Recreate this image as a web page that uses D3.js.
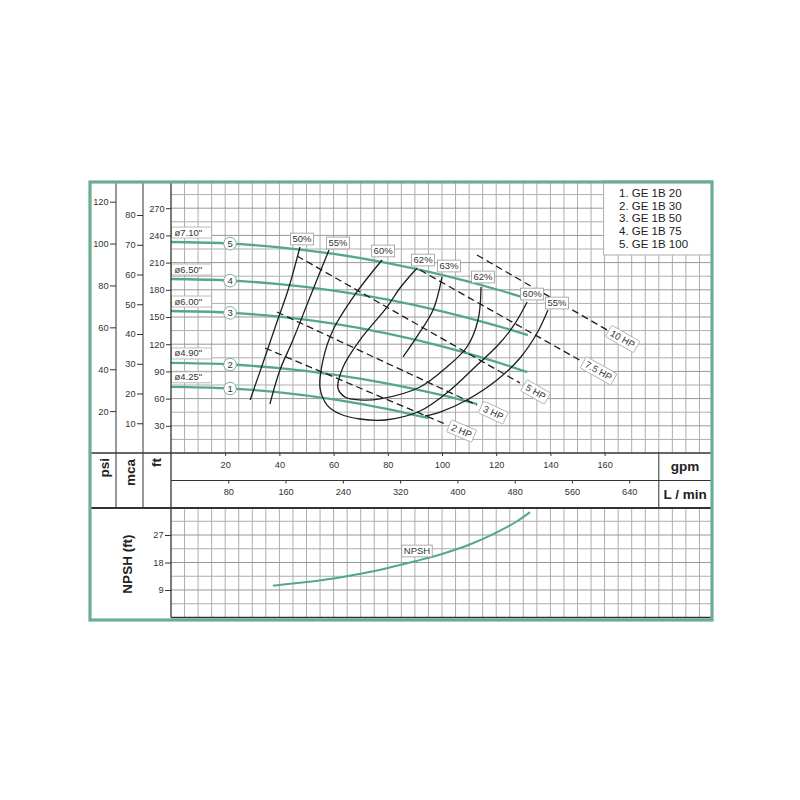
<!DOCTYPE html>
<html><head><meta charset="utf-8">
<script src="https://cdn.jsdelivr.net/npm/d3@7"></script>
<style>
body{margin:0;background:#fff}
svg{display:block}
text{font-family:"Liberation Sans",Arial,sans-serif}
</style>
</head><body>
<svg id="c" width="800" height="800"></svg>
<script>
// ---------- data ----------
const gpmTicks = [20,40,60,80,100,120,140,160];
const lminTicks = [80,160,240,320,400,480,560,640];
const ftTicks = [30,60,90,120,150,180,210,240,270];
const psiTicks = [20,40,60,80,100,120];
const mcaTicks = [10,20,30,40,50,60,70,80];
const npshTicks = [9,18,27];
const models = ["1. GE 1B 20","2. GE 1B 30","3. GE 1B 50","4. GE 1B 75","5. GE 1B 100"];
const diameters = ["ø4.25\"","ø4.90\"","ø6.00\"","ø6.50\"","ø7.10\""];

// head curves [gpm, ft]
const head1 = [[0,73],[20,71.5],[40,66.9],[60,59.2],[80,48.5],[95,38.4]];
const head2 = [[0,99.3],[20,97.9],[40,93.6],[60,86.5],[80,76.6],[100,63.8],[113,54]];
const head3 = [[0,156.6],[20,155],[40,150.4],[60,142.6],[80,131.6],[100,117.6],[120,100.4],[131.5,89.2]];
const head4 = [[0,191.9],[20,190.5],[40,186.2],[60,179.1],[80,169.1],[100,156.3],[120,140.6],[131.7,130.1]];
const head5 = [[0,232.7],[20,231.3],[40,226.9],[60,219.7],[80,209.5],[100,196.5],[120,180.6],[130.6,171]];

// efficiency curves [gpm, ft]
const effNames = ["50%","55%","60%","62%","63%","55%"];
const eff50 = [[47.6,227.2],[43.2,179.8],[39.1,144.5],[34.7,105.9],[29.2,58.5]];
const eff55a = [[58.3,223.9],[51.3,172.1],[45.0,124.6],[40.2,91.5],[36.5,54.0]];
const eff60 = [[77.9,212.9],[68.6,177.6],[59.8,135.7],[56.1,102.6],[55.0,71.7],[57.6,52.9],[62.4,43.0],[69.7,37.5],[79.0,36.4],[91.9,46.3],[102.2,67.3],[112.2,94.9],[120.7,119.1],[126.6,141.2],[131.4,166.5]];
const eff62 = [[90.8,204.0],[84.5,182.0],[79.7,161.0],[69.7,124.6],[63.5,94.9],[61.6,71.7],[64.2,61.8],[69.7,58.5],[77.1,59.6],[91.9,72.8],[101.8,94.9],[109.2,116.9],[113.3,146.7],[114.4,183.1]];
const eff63 = [[100.0,194.1],[96.7,157.7],[91.1,130.1],[85.6,105.9]];
const eff55b = [[139.1,157.7],[135.1,132.3],[128.8,104.8],[120.3,80.5],[109.2,58.5],[99.3,45.2],[93.7,40.8]];

// power lines [gpm, ft]
const powerNames = ["2 HP","3 HP","5 HP","7.5 HP","10 HP"];
const hp2 = [[34.7,115.8],[101.1,32.0]];
const hp3 = [[39.1,155.5],[112.9,52.9]];
const hp5 = [[46.5,217.3],[128.8,77.2]];
const hp75 = [[91.9,201.8],[152.0,100.4]];
const hp10 = [[112.9,218.4],[160.9,135.7]];

// NPSH [gpm, ft]
const npsh = [[37.6,10.4],[50,11.6],[60,12.8],[70,14.3],[80,16.2],[90,18.4],[100,20.8],[110,23.8],[120,27.8],[127.7,31.5],[132.5,34.5]];

// ---------- layout ----------
const svg = d3.select("#c");
const L = 171, R = 712, T = 181, B1 = 453, B2 = 480.5, B3 = 508, B4 = 617.5;
const GREEN = "#55a78b", GRID = "#adadad", DARK = "#333";

const x = d3.scaleLinear().domain([0,200]).range([L,713]);
const xL = d3.scaleLinear().domain([0,200*3.785]).range([L,713]);
const y = d3.scaleLinear().domain([0,300]).range([B1,T]);
const yPsi = d3.scaleLinear().domain([0,300/2.31]).range([B1,T]);
const yMca = d3.scaleLinear().domain([0,300/3.281]).range([B1,T]);
const yN = d3.scaleLinear().domain([0,36]).range([B4,B4-36*3.055]);

// grid
const g = svg.append("g");
d3.range(5,200,5).forEach(v=>{
  g.append("line").attr("x1",x(v)).attr("x2",x(v)).attr("y1",T).attr("y2",B1)
   .attr("stroke",GRID).attr("stroke-width",1);
  g.append("line").attr("x1",x(v)).attr("x2",x(v)).attr("y1",B3).attr("y2",B4)
   .attr("stroke",GRID).attr("stroke-width",1);
});
d3.range(15,300,15).forEach(v=>{
  g.append("line").attr("x1",L).attr("x2",R).attr("y1",y(v)).attr("y2",y(v))
   .attr("stroke", v%30===0 ? "#999" : GRID).attr("stroke-width",1);
});
d3.range(4.5,36,4.5).forEach(v=>{
  g.append("line").attr("x1",L).attr("x2",R).attr("y1",yN(v)).attr("y2",yN(v))
   .attr("stroke", v%9===0 ? "#999" : GRID).attr("stroke-width",1);
});

// legend box
svg.append("rect").attr("x",x(160)-1).attr("y",T).attr("width",R-x(160)+1).attr("height",255-T)
  .attr("fill","#fff").attr("stroke",GRID);
svg.append("g").selectAll("text").data(models).join("text")
  .attr("x",619).attr("y",(d,i)=>197+i*12.7).attr("font-size",11.5).attr("fill","#222").text(d=>d);

// head curves
const lineM = d3.line().x(d=>x(d[0])).y(d=>y(d[1])).curve(d3.curveMonotoneX);
const heads = [head1,head2,head3,head4,head5];
heads.forEach(h=>{
  svg.append("path").attr("d",lineM(h)).attr("fill","none").attr("stroke",GREEN).attr("stroke-width",2.3);
});

// efficiency curves
const lineC = d3.line().x(d=>x(d[0])).y(d=>y(d[1])).curve(d3.curveCatmullRom.alpha(0.5));
const effs = [eff50,eff55a,eff60,eff62,eff63,eff55b];
effs.forEach(e=>{
  svg.append("path").attr("d",lineC(e)).attr("fill","none").attr("stroke","#1e1e1e").attr("stroke-width",1.3);
});

// power lines
const powers = [hp2,hp3,hp5,hp75,hp10];
const lineS = d3.line().x(d=>x(d[0])).y(d=>y(d[1]));
powers.forEach((p,i)=>{
  svg.append("path").attr("d",lineS(p)).attr("fill","none").attr("stroke","#1e1e1e")
    .attr("stroke-width",1.3).attr("stroke-dasharray","7,4");
  const x0=x(p[0][0]),y0=y(p[0][1]),x1=x(p[1][0]),y1=y(p[1][1]);
  const len=Math.hypot(x1-x0,y1-y0), ux=(x1-x0)/len, uy=(y1-y0)/len;
  const cx=x1+ux*18, cy=y1+uy*18, ang=Math.atan2(uy,ux)*180/Math.PI;
  const gg=svg.append("g").attr("transform",`translate(${cx},${cy}) rotate(${ang})`);
  const t=gg.append("text").attr("text-anchor","middle").attr("dy","0.35em").attr("font-size",9.5).attr("fill","#333").text(powerNames[i]);
  const w=t.node().getComputedTextLength()+6;
  gg.insert("rect","text").attr("x",-w/2).attr("y",-6.5).attr("width",w).attr("height",13)
    .attr("fill","#fff").attr("stroke","#aaa").attr("stroke-width",0.8).attr("rx",1);
});

// efficiency labels
const effOff = [[2,-8],[9,-7],[1,-9],[6,-8],[7,-11],[9,-7]];
function boxLabel(cx,cy,txt,fs){
  const gg=svg.append("g").attr("transform",`translate(${cx},${cy})`);
  const t=gg.append("text").attr("text-anchor","middle").attr("dy","0.36em").attr("font-size",fs).attr("fill","#333").text(txt);
  const w=t.node().getComputedTextLength()+4;
  gg.insert("rect","text").attr("x",-w/2).attr("y",-fs*0.62).attr("width",w).attr("height",fs*1.24)
    .attr("fill","#fff").attr("stroke","#999").attr("stroke-width",0.8);
}
effs.forEach((e,i)=>{
  boxLabel(x(e[0][0])+effOff[i][0], y(e[0][1])+effOff[i][1], effNames[i], 9.5);
});
boxLabel(x(eff62[eff62.length-1][0])+2, y(eff62[eff62.length-1][1])-10, "62%", 9.5);
boxLabel(x(eff60[eff60.length-1][0])+5, y(eff60[eff60.length-1][1])-8, "60%", 9.5);

// diameter labels & circles
function headAt(h,q){
  for(let i=1;i<h.length;i++){ if(q<=h[i][0]){const a=h[i-1],b=h[i];return a[1]+(b[1]-a[1])*(q-a[0])/(b[0]-a[0]);} }
  return h[h.length-1][1];
}
heads.forEach((h,i)=>{
  const yy=y(h[0][1]);
  const gg=svg.append("g");
  gg.append("rect").attr("x",L+0.5).attr("y",yy-15).attr("width",40).attr("height",11)
    .attr("fill","#fff").attr("stroke","#aaa").attr("stroke-width",0.8);
  gg.append("text").attr("x",L+3.5).attr("y",yy-6.5).attr("font-size",9.5).attr("fill","#333").text(diameters[i]);
  const q=21.8, cy=y(headAt(h,q));
  svg.append("circle").attr("cx",x(q)).attr("cy",cy).attr("r",6.3).attr("fill","#fff").attr("stroke","#7fae9c").attr("stroke-width",1);
  svg.append("text").attr("x",x(q)).attr("y",cy).attr("dy","0.36em").attr("text-anchor","middle").attr("font-size",9.5).attr("fill","#333").text(i+1);
});

// NPSH curve
svg.append("path").attr("d",d3.line().x(d=>x(d[0])).y(d=>yN(d[1])).curve(d3.curveMonotoneX)(npsh))
  .attr("fill","none").attr("stroke",GREEN).attr("stroke-width",2);
boxLabel(417,551,"NPSH",9.5);

// axes
function styleAxis(sel){
  sel.select(".domain").remove();
  sel.selectAll("text").attr("font-size",9.2).attr("fill",DARK).style("font-family",'"Liberation Sans",Arial,sans-serif');
  sel.selectAll("line").attr("stroke",DARK);
}
svg.append("g").attr("transform",`translate(116,0)`).call(d3.axisLeft(yPsi).tickValues(psiTicks).tickSize(6).tickPadding(1.5)).call(styleAxis);
svg.append("g").attr("transform",`translate(143,0)`).call(d3.axisLeft(yMca).tickValues(mcaTicks).tickSize(6).tickPadding(1.5)).call(styleAxis);
svg.append("g").attr("transform",`translate(${L},0)`).call(d3.axisLeft(y).tickValues(ftTicks).tickSize(5).tickPadding(1.5)).call(styleAxis);
svg.append("g").attr("transform",`translate(${L},0)`).call(d3.axisLeft(yN).tickValues(npshTicks).tickSize(6).tickPadding(1.5)).call(styleAxis);
svg.append("g").attr("transform",`translate(0,${B1})`).call(d3.axisBottom(x).tickValues(gpmTicks).tickSize(3).tickPadding(5)).call(styleAxis);
svg.append("g").attr("transform",`translate(0,${B2})`).call(d3.axisBottom(xL).tickValues(lminTicks).tickSize(3).tickPadding(5)).call(styleAxis);

// frame lines
const fr = svg.append("g").attr("stroke","#333").attr("fill","none");
fr.append("line").attr("x1",89).attr("x2",R).attr("y1",B1).attr("y2",B1).attr("stroke-width",1.3);
fr.append("line").attr("x1",L).attr("x2",R).attr("y1",B2).attr("y2",B2).attr("stroke-width",1);
fr.append("line").attr("x1",89).attr("x2",R).attr("y1",B3).attr("y2",B3).attr("stroke-width",2);
fr.append("line").attr("x1",L).attr("x2",R).attr("y1",B4).attr("y2",B4).attr("stroke-width",1.5);
fr.append("line").attr("x1",116).attr("x2",116).attr("y1",T).attr("y2",B3).attr("stroke-width",1);
fr.append("line").attr("x1",143).attr("x2",143).attr("y1",T).attr("y2",B3).attr("stroke-width",1);
fr.append("line").attr("x1",L).attr("x2",L).attr("y1",T).attr("y2",B4).attr("stroke-width",1.3);
fr.append("line").attr("x1",x(180)).attr("x2",x(180)).attr("y1",B1).attr("y2",B3).attr("stroke-width",1);

// band labels
const bold = {"font-weight":"bold","font-size":13.5,"fill":"#222"};
function addBold(xx,yy,txt,rot,anchor){
  const t=svg.append("text").attr("transform",`translate(${xx},${yy}) rotate(${rot})`)
    .attr("text-anchor",anchor).attr("dy","0.35em").text(txt);
  Object.entries(bold).forEach(([k,v])=>t.attr(k,v));
}
addBold(104,458,"psi",-90,"end");
addBold(130,459,"mca",-90,"end");
addBold(156,458,"ft",-90,"end");
addBold(685,466,"gpm",0,"middle");
addBold(685,494,"L / min",0,"middle");
addBold(127,564,"NPSH (ft)",-90,"middle");

// outer green border
svg.append("rect").attr("x",90).attr("y",182).attr("width",622).attr("height",438)
  .attr("fill","none").attr("stroke","#6aad95").attr("stroke-width",3.2);
</script>
</body></html>
